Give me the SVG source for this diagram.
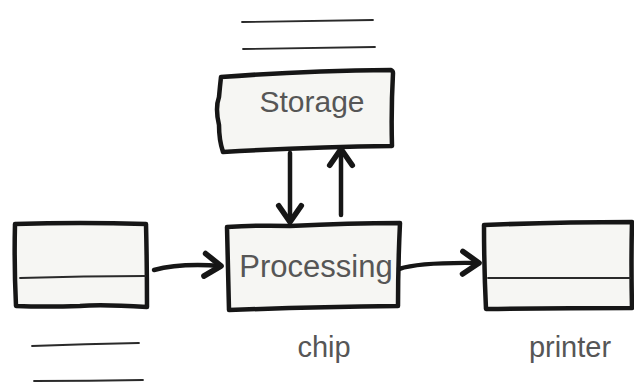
<svg xmlns="http://www.w3.org/2000/svg" width="634" height="389" viewBox="0 0 634 389">
  <style>
    .box { fill: #f6f6f3; stroke: #161616; stroke-width: 4.5; stroke-linejoin: round; stroke-linecap: round; }
    .rule { fill: none; stroke: #2a2a2a; stroke-width: 1.8; stroke-linecap: round; }
    .label { font-family: "Liberation Sans", Arial, Helvetica, sans-serif; fill: #565656; text-anchor: middle; }
    .conn { fill: none; stroke: #161616; stroke-width: 4.5; stroke-linecap: round; stroke-linejoin: round; }
  </style>
  <defs>
    <marker id="head" markerUnits="userSpaceOnUse" markerWidth="30" markerHeight="30" refX="0" refY="0" viewBox="-18 -12 22 24" orient="auto" overflow="visible">
      <path d="M-13,-9 L0,0 L-13,9" fill="none" stroke="#161616" stroke-width="4.5" stroke-linecap="round" stroke-linejoin="round"/>
    </marker>
  </defs>

  <rect width="634" height="389" fill="#ffffff"/>

  <!-- storage, with its two blank rules above -->
  <g id="storage">
    <path class="rule" d="M242,22 Q310,21 373,20"/>
    <path class="rule" d="M243,49 Q310,48 375,47"/>
    <path class="box" d="M221,77 Q300,71 391,70 Q393,71 393,73 Q391,110 392,146 Q310,147 223,152 Q219,140 219,125 Q215,108 219,97 Q220,86 221,77 Z"/>
    <text class="label" x="312" y="112" font-size="30">Storage</text>
  </g>

  <!-- input: blank box with a divider and two rules beneath -->
  <g id="input">
    <path class="box" d="M15,224 Q80,222 146,224 Q147,265 147,307 Q100,304 80,306 Q45,307 16,306 Q14,265 15,224 Z"/>
    <path class="rule" d="M20,278 Q85,276 145,276"/>
    <path class="rule" d="M32,346 Q85,344 139,343"/>
    <path class="rule" d="M34,381 Q90,381 143,380"/>
  </g>

  <!-- processing chip -->
  <g id="processing">
    <path class="box" d="M227,227 Q260,225 290,226 Q350,223 400,223 Q398,265 398,306 Q310,307 229,310 Q228,268 227,227 Z"/>
    <text class="label" x="316" y="277" font-size="31">Processing</text>
    <text class="label" x="324" y="357" font-size="29">chip</text>
  </g>

  <!-- printer: blank box with a divider -->
  <g id="printer">
    <path class="box" d="M484,225 Q560,222 632,222 Q631,265 632,308 Q560,308 486,309 Q484,268 484,225 Z"/>
    <path class="rule" d="M488,278 Q560,278 630,278"/>
    <text class="label" x="570" y="357" font-size="29">printer</text>
  </g>

  <!-- connectors -->
  <g id="connectors">
    <path class="conn" marker-end="url(#head)" d="M154,270 Q180,263 221,266"/>
    <path class="conn" marker-end="url(#head)" d="M399,269 Q420,262 479,263"/>
    <path class="conn" marker-end="url(#head)" d="M290,153 L290,222"/>
    <path class="conn" marker-end="url(#head)" d="M341,215 L341,149"/>
  </g>
</svg>
